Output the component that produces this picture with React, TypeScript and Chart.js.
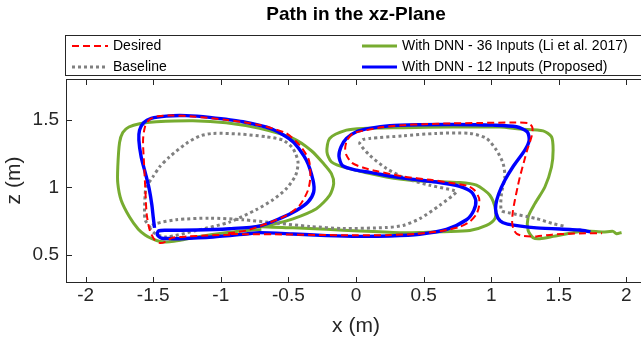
import React, { useEffect, useRef } from "react";
import { Chart, registerables } from "chart.js";

Chart.register(...registerables);

// ---- Data (x in m, z in m) ----
const desiredX = [-0.93, -1.1, -1.25, -1.36, -1.41, -1.45, -1.49, -1.525, -1.548, -1.558, -1.568, -1.575, -1.56, -1.527, -1.466, -1.354, -1.206, -0.96, -0.713, -0.515, -0.417, -0.348, -0.338, -0.355, -0.417, -0.515, -0.663, -0.812, -0.95, -0.8, -0.6, -0.3, 0.0, 0.25, 0.45, 0.62, 0.76, 0.84, 0.89, 0.91, 0.91, 0.875, 0.82, 0.718, 0.55, 0.348, 0.15, 0.05, -0.03, -0.071, -0.08, -0.065, -0.022, 0.077, 0.2, 0.35, 0.5, 0.7, 0.9, 1.15, 1.28, 1.305, 1.3, 1.265, 1.24, 1.212, 1.195, 1.175, 1.16, 1.155, 1.165, 1.19, 1.24, 1.335, 1.45, 1.58, 1.7, 1.82];
const desiredZ = [0.65, 0.643, 0.636, 0.626, 0.597, 0.588, 0.612, 0.68, 0.8, 0.98, 1.18, 1.35, 1.45, 1.5, 1.524, 1.53, 1.523, 1.498, 1.46, 1.398, 1.311, 1.2, 1.076, 0.978, 0.866, 0.792, 0.73, 0.68, 0.658, 0.653, 0.652, 0.648, 0.645, 0.647, 0.656, 0.676, 0.705, 0.745, 0.8, 0.86, 0.92, 0.98, 1.012, 1.03, 1.055, 1.08, 1.12, 1.146, 1.18, 1.237, 1.29, 1.35, 1.398, 1.422, 1.445, 1.459, 1.466, 1.472, 1.475, 1.478, 1.472, 1.44, 1.38, 1.27, 1.18, 1.076, 1.0, 0.904, 0.82, 0.74, 0.69, 0.655, 0.64, 0.637, 0.65, 0.657, 0.66, 0.66];

const baselineX = [-1.52, -1.56, -1.564, -1.56, -1.552, -1.503, -1.453, -1.379, -1.255, -1.157, -1.058, -0.861, -0.663, -0.54, -0.466, -0.429, -0.446, -0.515, -0.614, -0.737, -0.935, -1.181, -1.404, -1.49, -1.525, -1.478, -1.33, -1.083, -0.836, -0.589, -0.343, -0.096, 0.225, 0.348, 0.471, 0.62, 0.743, 0.718, 0.546, 0.373, 0.225, 0.101, 0.027, 0.05, 0.101, 0.348, 0.595, 0.842, 0.965, 1.039, 1.088, 1.101, 1.076, 1.076, 1.138, 1.335, 1.458, 1.545];
const baselineZ = [0.7, 0.76, 0.85, 0.94, 1.002, 1.076, 1.15, 1.225, 1.324, 1.378, 1.398, 1.393, 1.373, 1.348, 1.286, 1.188, 1.089, 0.99, 0.908, 0.835, 0.743, 0.681, 0.632, 0.66, 0.705, 0.732, 0.76, 0.772, 0.76, 0.735, 0.711, 0.695, 0.703, 0.718, 0.768, 0.867, 0.965, 0.978, 1.015, 1.064, 1.139, 1.237, 1.324, 1.352, 1.361, 1.38, 1.398, 1.398, 1.361, 1.274, 1.176, 1.076, 0.953, 0.829, 0.81, 0.768, 0.731, 0.711];

const dnn36X = [-0.7, -0.935, -1.181, -1.3, -1.379, -1.45, -1.505, -1.56, -1.61, -1.675, -1.737, -1.762, -1.762, -1.749, -1.725, -1.68, -1.601, -1.477, -1.206, -0.96, -0.713, -0.466, -0.33, -0.24, -0.182, -0.165, -0.195, -0.293, -0.466, -0.61, -0.73, -0.466, -0.219, 0.027, 0.323, 0.471, 0.65, 0.842, 0.965, 1.027, 1.034, 0.99, 0.891, 0.768, 0.471, 0.225, -0.071, -0.182, -0.215, -0.195, -0.071, 0.052, 0.348, 0.718, 1.064, 1.212, 1.384, 1.446, 1.458, 1.446, 1.397, 1.323, 1.273, 1.273, 1.31, 1.36, 1.458, 1.582, 1.705, 1.828, 1.902, 1.927, 1.964];
const dnn36Z = [0.69, 0.667, 0.632, 0.608, 0.597, 0.6, 0.618, 0.648, 0.69, 0.78, 0.904, 1.03, 1.15, 1.33, 1.405, 1.445, 1.47, 1.484, 1.492, 1.477, 1.435, 1.361, 1.27, 1.175, 1.101, 1.027, 0.94, 0.842, 0.767, 0.728, 0.712, 0.7, 0.689, 0.676, 0.664, 0.665, 0.672, 0.681, 0.718, 0.768, 0.83, 0.941, 1.015, 1.035, 1.047, 1.076, 1.143, 1.188, 1.262, 1.361, 1.422, 1.435, 1.44, 1.445, 1.445, 1.43, 1.417, 1.373, 1.274, 1.15, 1.002, 0.879, 0.78, 0.681, 0.627, 0.62, 0.637, 0.661, 0.676, 0.669, 0.674, 0.657, 0.666];

const dnn12X = [-1.49, -1.5, -1.51, -1.53, -1.557, -1.589, -1.606, -1.601, -1.571, -1.515, -1.404, -1.255, -1.083, -0.836, -0.614, -0.466, -0.367, -0.318, -0.313, -0.355, -0.441, -0.565, -0.713, -0.935, -1.181, -1.4, -1.46, -1.47, -1.44, -1.38, -1.305, -1.058, -0.811, -0.713, -0.466, -0.219, 0.027, 0.25, 0.471, 0.669, 0.817, 0.871, 0.886, 0.854, 0.767, 0.595, 0.348, 0.101, 0.003, -0.1, -0.126, -0.11, -0.071, 0.003, 0.101, 0.25, 0.471, 0.718, 1.014, 1.187, 1.266, 1.281, 1.249, 1.16, 1.1, 1.055, 1.034, 1.036, 1.065, 1.12, 1.335, 1.582, 1.656, 1.735];
const dnn12Z = [0.7, 0.78, 0.87, 0.99, 1.101, 1.225, 1.348, 1.422, 1.477, 1.509, 1.526, 1.529, 1.516, 1.484, 1.427, 1.336, 1.2, 1.052, 0.965, 0.891, 0.829, 0.768, 0.713, 0.694, 0.684, 0.682, 0.678, 0.65, 0.625, 0.621, 0.62, 0.632, 0.655, 0.665, 0.655, 0.643, 0.637, 0.64, 0.653, 0.689, 0.76, 0.829, 0.903, 0.965, 1.007, 1.039, 1.068, 1.11, 1.126, 1.16, 1.23, 1.3, 1.361, 1.41, 1.435, 1.455, 1.462, 1.464, 1.459, 1.447, 1.41, 1.348, 1.274, 1.15, 1.05, 0.95, 0.87, 0.81, 0.752, 0.728, 0.7, 0.688, 0.684, 0.67];

const xTicks = [-2, -1.5, -1, -0.5, 0, 0.5, 1, 1.5, 2];
const zTicks = [0.5, 1, 1.5];

const seriesNames = [
  "Desired",
  "Baseline",
  "With DNN - 36 Inputs (Li et al. 2017)",
  "With DNN - 12 Inputs (Proposed)",
];
const titleText = "Path in the xz-Plane";

const FONT = '"Liberation Sans", Arial, Helvetica, sans-serif';
const AXIS_COLOR = "#262626";
const RED = "#FF0000";
const GRAY = "#808080";
const GREEN = "#77AC30";
const BLUE = "#0000FF";

const toPts = (xs: number[], zs: number[]) => xs.map((x, i) => ({ x, y: zs[i] }));

const framePlugin = {
  id: "matlabFrame",
  afterDraw(chart: any) {
    const ctx = chart.ctx as CanvasRenderingContext2D;
    const { left, top, right, bottom } = chart.chartArea;
    const xs = chart.scales.x;
    const ys = chart.scales.y;
    ctx.save();
    ctx.fillStyle = AXIS_COLOR;
    const L = Math.round(left);
    const T = Math.round(top);
    const B = Math.round(bottom);
    const R = Math.round(right);
    // box
    ctx.fillRect(L, T, R - L, 1);
    ctx.fillRect(L, B, R - L + 1, 1);
    ctx.fillRect(L, T, 1, B - T + 1);
    ctx.fillRect(R, T, 1, B - T + 1);
    // ticks (inward)
    const tl = 5;
    xTicks.forEach((v) => {
      const p = Math.round(xs.getPixelForValue(v));
      ctx.fillRect(p, B - tl, 1, tl);
      ctx.fillRect(p, T + 1, 1, tl);
    });
    zTicks.forEach((v) => {
      const p = Math.round(ys.getPixelForValue(v));
      ctx.fillRect(L + 1, p, tl, 1);
      ctx.fillRect(R - tl, p, tl, 1);
    });

    // title
    ctx.fillStyle = "#000";
    ctx.font = `bold 19px ${FONT}`;
    ctx.textAlign = "center";
    ctx.textBaseline = "middle";
    ctx.fillText(titleText, (left + right) / 2, 15);

    // legend box
    ctx.fillStyle = "#fff";
    ctx.fillRect(66, 35, 600, 41);
    ctx.strokeStyle = AXIS_COLOR;
    ctx.lineWidth = 1;
    ctx.strokeRect(65.5, 35.5, 620, 40);

    const rows = [46, 67];
    const items = [
      { x0: 72, x1: 108, y: rows[0], color: RED, w: 2, dash: [7, 4], label: seriesNames[0] },
      { x0: 72, x1: 108, y: rows[1], color: GRAY, w: 3, dash: [3, 3], label: seriesNames[1] },
      { x0: 362, x1: 397, y: rows[0], color: GREEN, w: 3, dash: [], label: seriesNames[2] },
      { x0: 362, x1: 397, y: rows[1], color: BLUE, w: 3, dash: [], label: seriesNames[3] },
    ];
    ctx.textAlign = "left";
    ctx.font = `14px ${FONT}`;
    items.forEach((it) => {
      ctx.beginPath();
      ctx.setLineDash(it.dash);
      ctx.strokeStyle = it.color;
      ctx.lineWidth = it.w;
      ctx.moveTo(it.x0, it.y);
      ctx.lineTo(it.x1, it.y);
      ctx.stroke();
      ctx.setLineDash([]);
      ctx.fillStyle = "#000";
      ctx.fillText(it.label, it.x1 + 5, it.y);
    });
    ctx.restore();
  },
};

export default function App() {
  const canvasRef = useRef<HTMLCanvasElement | null>(null);

  useEffect(() => {
    if (!canvasRef.current) return;
    const common = { showLine: true, pointRadius: 0, pointHoverRadius: 0, tension: 0.25, borderJoinStyle: "round" as const, fill: false };
    const chart = new Chart(canvasRef.current, {
      type: "scatter",
      data: {
        datasets: [
          { ...common, label: seriesNames[0], data: toPts(desiredX, desiredZ), borderColor: RED, backgroundColor: RED, borderWidth: 2, borderDash: [7, 4] },
          { ...common, label: seriesNames[3], data: toPts(dnn12X, dnn12Z), borderColor: BLUE, backgroundColor: BLUE, borderWidth: 3.4 },
          { ...common, label: seriesNames[1], data: toPts(baselineX, baselineZ), borderColor: GRAY, backgroundColor: GRAY, borderWidth: 3, borderDash: [3, 3] },
          { ...common, label: seriesNames[2], data: toPts(dnn36X, dnn36Z), borderColor: GREEN, backgroundColor: GREEN, borderWidth: 3 },
        ],
      },
      options: {
        responsive: false,
        animation: false,
        devicePixelRatio: 1,
        layout: { padding: { top: 79, left: 0, right: 14, bottom: 0 } },
        plugins: { legend: { display: false }, title: { display: false }, tooltip: { enabled: false } },
        events: [],
        scales: {
          x: {
            type: "linear",
            min: -2.145,
            max: 2.145,
            grid: { display: false, drawTicks: false },
            border: { display: false },
            afterBuildTicks: (s: any) => {
              s.ticks = xTicks.map((v) => ({ value: v }));
            },
            afterFit: (s: any) => {
              s.height = 69;
            },
            ticks: {
              padding: 2,
              color: AXIS_COLOR,
              font: { family: FONT, size: 19 },
              maxRotation: 0,
              autoSkip: false,
              callback: (v: any) => String(v),
            },
            title: {
              display: true,
              text: "x (m)",
              color: AXIS_COLOR,
              font: { family: FONT, size: 21 },
              padding: { top: 12, bottom: 12 },
            },
          },
          y: {
            type: "linear",
            min: 0.3,
            max: 1.8,
            grid: { display: false, drawTicks: false },
            border: { display: false },
            afterBuildTicks: (s: any) => {
              s.ticks = zTicks.map((v) => ({ value: v }));
            },
            afterFit: (s: any) => {
              s.width = 66;
            },
            ticks: {
              padding: 7,
              color: AXIS_COLOR,
              font: { family: FONT, size: 19 },
              autoSkip: false,
              callback: (v: any) => String(v),
            },
            title: {
              display: true,
              text: "z (m)",
              color: AXIS_COLOR,
              font: { family: FONT, size: 21 },
              padding: { top: 2, bottom: 2 },
            },
          },
        },
      },
      plugins: [framePlugin],
    });
    return () => chart.destroy();
  }, []);

  return (
    <div
      style={{
        position: "fixed",
        left: 0,
        top: 0,
        width: 641,
        height: 351,
        overflow: "hidden",
        background: "#fff",
      }}
    >
      <canvas ref={canvasRef} width={660} height={351} style={{ display: "block" }} />
    </div>
  );
}
